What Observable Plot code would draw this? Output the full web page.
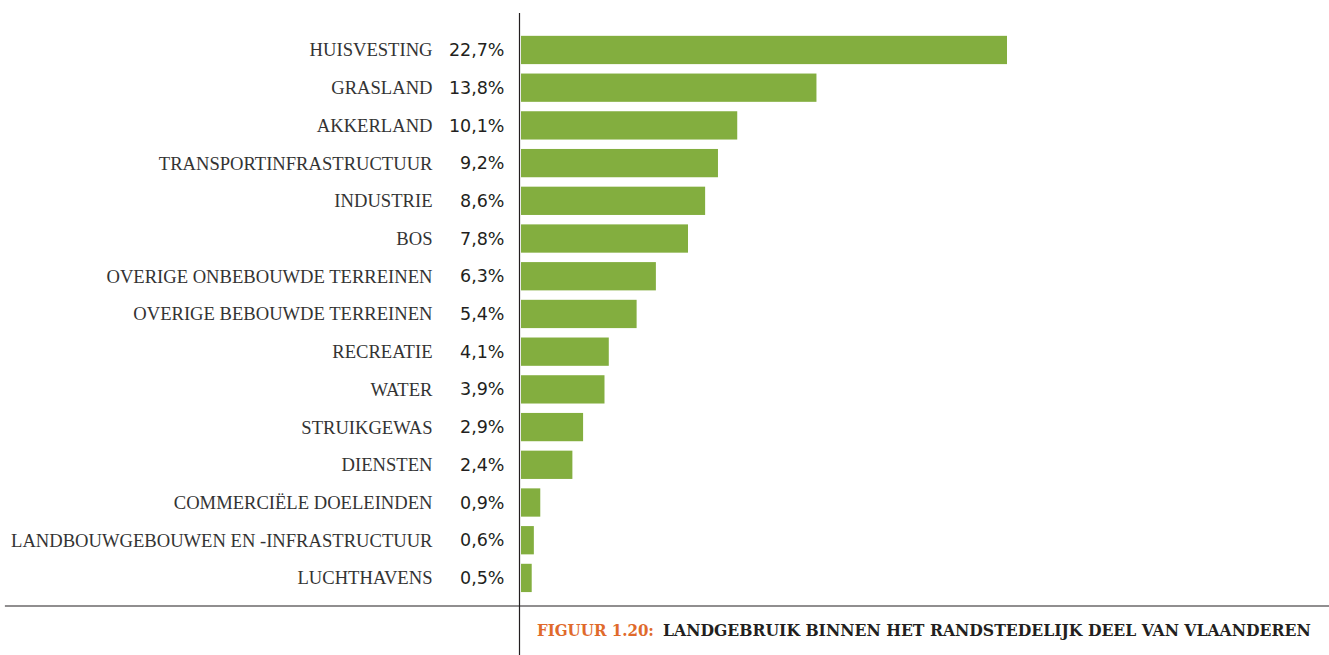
<!DOCTYPE html>
<html>
<head>
<meta charset="utf-8">
<script src="https://cdn.jsdelivr.net/npm/d3@7"></script>
<script src="https://cdn.jsdelivr.net/npm/@observablehq/plot@0.6"></script>
<style>
  html, body { margin: 0; padding: 0; background: #fff; }
  #chart { width: 1329px; height: 655px; }
</style>
</head>
<body>
<div id="chart"></div>
<script>
const categories = [
  "HUISVESTING", "GRASLAND", "AKKERLAND", "TRANSPORTINFRASTRUCTUUR", "INDUSTRIE",
  "BOS", "OVERIGE ONBEBOUWDE TERREINEN", "OVERIGE BEBOUWDE TERREINEN", "RECREATIE",
  "WATER", "STRUIKGEWAS", "DIENSTEN", "COMMERCIËLE DOELEINDEN",
  "LANDBOUWGEBOUWEN EN -INFRASTRUCTUUR", "LUCHTHAVENS"
];
const values = [22.7, 13.8, 10.1, 9.2, 8.6, 7.8, 6.3, 5.4, 4.1, 3.9, 2.9, 2.4, 0.9, 0.6, 0.5];
const captionLabel = "FIGUUR 1.20:";
const captionTitle = "LANDGEBRUIK BINNEN HET RANDSTEDELIJK DEEL VAN VLAANDEREN";

const data = categories.map((c, i) => ({category: c, value: values[i]}));
const fmt = v => v.toFixed(1).replace(".", ",") + "%";

const green = "#83ae3f";
const dark = "#231f20";

const chart = Plot.plot({
  width: 1329,
  height: 655,
  marginLeft: 521,
  marginRight: 322,
  marginTop: 26.4,
  marginBottom: 53.5,
  style: {background: "#fff", overflow: "visible"},
  x: {domain: [0, 22.7], axis: null},
  y: {domain: categories, padding: 0.25, round: false, label: null},
  marks: [
    Plot.barX(data, {x: "value", y: "category", fill: green}),
    Plot.axisY({
      tickSize: 0, tickPadding: 89, label: null,
      fontSize: 18.6, fontFamily: "Liberation Serif", fill: "#333"
    }),
    Plot.text(data, {
      x: 0, y: "category", text: d => fmt(d.value),
      dx: -17, textAnchor: "end", fontSize: 17.5, fontFamily: "DejaVu Sans", fill: dark
    }),
    Plot.ruleX([0], {dx: -2, stroke: dark, strokeWidth: 1.2, insetTop: -13.4, insetBottom: -53.5}),
    Plot.frame({anchor: "bottom", dy: 4, stroke: dark, strokeWidth: 1.2, insetLeft: -516, insetRight: -322})
  ]
});

document.getElementById("chart").appendChild(chart);

// caption in the bottom-right cell: orange label + dark title, sized to fit
const svg = d3.select(chart);
const capFont = "'DejaVu Serif Condensed', 'DejaVu Serif', serif";
function addCap(x, text, fill, targetWidth) {
  const t = svg.append("text")
    .attr("x", x).attr("y", 636)
    .attr("text-anchor", "start")
    .attr("font-family", capFont)
    .attr("font-weight", "bold")
    .attr("font-size", 16)
    .attr("fill", fill)
    .text(text);
  const w = t.node().getComputedTextLength();
  const fs = Math.min(18, 16 * targetWidth / w);
  t.attr("font-size", fs);
  return t;
}
addCap(537, captionLabel, "#e06a2b", 117);
addCap(663, captionTitle, dark, 648);
</script>
</body>
</html>
